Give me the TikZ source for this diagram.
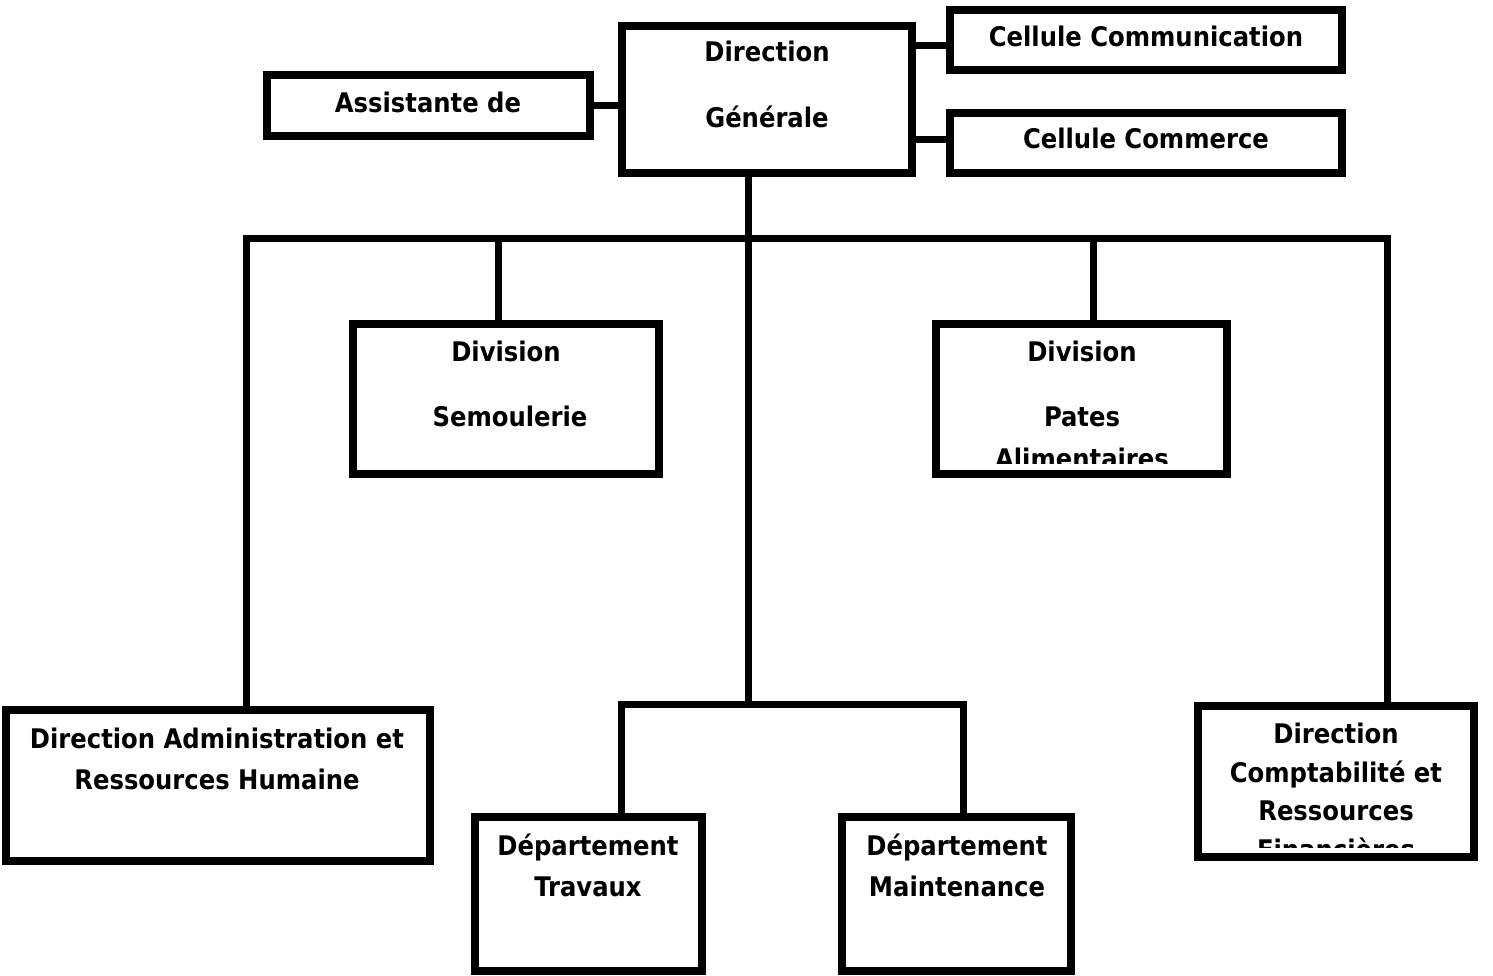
\documentclass[tikz,border=0pt]{standalone}
\usepackage{fontspec}
\setmainfont{DejaVu Sans Condensed}
\begin{document}
\begin{tikzpicture}[x=1pt,y=-1pt,
  unit/.style={draw=black,line width=8.5pt,fill=white,rectangle,inner sep=0pt,outer sep=0pt},
  link/.style={draw=black,line width=7pt},
  lbl/.style={anchor=base,inner sep=0pt,font=\fontsize{27}{30}\selectfont\bfseries}]
\useasboundingbox (0,0) rectangle (1493,976);

% boxes
\node[unit,minimum width=290pt,minimum height=147pt] (dg)    at (767,99.5) {};
\node[unit,minimum width=323pt,minimum height=61pt]  (asst)  at (428.5,105.5) {};
\node[unit,minimum width=392pt,minimum height=60pt]  (ccom)  at (1146,40) {};
\node[unit,minimum width=392pt,minimum height=60pt]  (ccomm) at (1146,143) {};
\node[unit,minimum width=306pt,minimum height=150pt] (divs)  at (506,399) {};
\node[unit,minimum width=291pt,minimum height=150pt] (divp)  at (1081.5,399) {};
\node[unit,minimum width=424pt,minimum height=151pt] (dar)   at (218,785.5) {};
\node[unit,minimum width=276pt,minimum height=151pt] (dcrf)  at (1336,781.5) {};
\node[unit,minimum width=227pt,minimum height=154pt] (trav)  at (588.5,894) {};
\node[unit,minimum width=229pt,minimum height=154pt] (maint) at (956.5,894) {};

% junction points of the two buses
\coordinate (bus)  at (748,239);
\coordinate (bus2) at (748,704);
\coordinate (busl) at (246,239);
\coordinate (busr) at (1387,239);
\coordinate (bl)   at (621,704);
\coordinate (br)   at (963,704);

% connectors
\draw[link] (asst.east) -- (asst.east -| dg.west);
\draw[link] ([yshift=-6pt]ccom.west) -- ([yshift=-6pt]ccom.west -| dg.east);
\draw[link] ([yshift=3pt]ccomm.west) -- ([yshift=3pt]ccomm.west -| dg.east);
\draw[link] (dg.south -| bus) -- (bus2);
\draw[link] (busl |- dar.north) -- (busl) -- (busr) -- (busr |- dcrf.north);
\draw[link] (bus -| 498,0) -- (divs.north -| 498,0);
\draw[link] (bus -| 1093,0) -- (divp.north -| 1093,0);
\draw[link] (bl |- trav.north) -- (bl) -- (br) -- (br |- maint.north);

% labels
\node[lbl] (t1) at (767,62) {Direction};
\node[lbl] (t2) at (767,128) {Générale};
\node[lbl] (t3) at (428,113) {Assistante de};
\node[lbl] (t4) at (1146,47) {Cellule Communication};
\node[lbl] (t5) at (1146,149) {Cellule Commerce};
\node[lbl] (t6) at (506,361) {Division};
\node[lbl] (t7) at (510,426) {Semoulerie};
\node[lbl] (t8) at (1082,361) {Division};
\node[lbl] (t9) at (1082,426) {Pates};
\begin{scope}
  \clip (936,440) rectangle (1227,463);
  \node[lbl] (t10) at (1082,468) {Alimentaires};
\end{scope}
\node[lbl] (t11) at (1336,743) {Direction};
\node[lbl] (t12) at (1336,782) {Comptabilité et};
\node[lbl] (t13) at (1336,820) {Ressources};
\begin{scope}
  \clip (1198,830) rectangle (1474,847);
  \node[lbl] (t14) at (1336,859) {Financières};
\end{scope}
\node[lbl] (t15) at (217,748) {Direction Administration et};
\node[lbl] (t16) at (217,789) {Ressources Humaine};
\node[lbl] (t17) at (588,855) {Département};
\node[lbl] (t18) at (588,896) {Travaux};
\node[lbl] (t19) at (957,855) {Département};
\node[lbl] (t20) at (957,896) {Maintenance};
\end{tikzpicture}
\end{document}
